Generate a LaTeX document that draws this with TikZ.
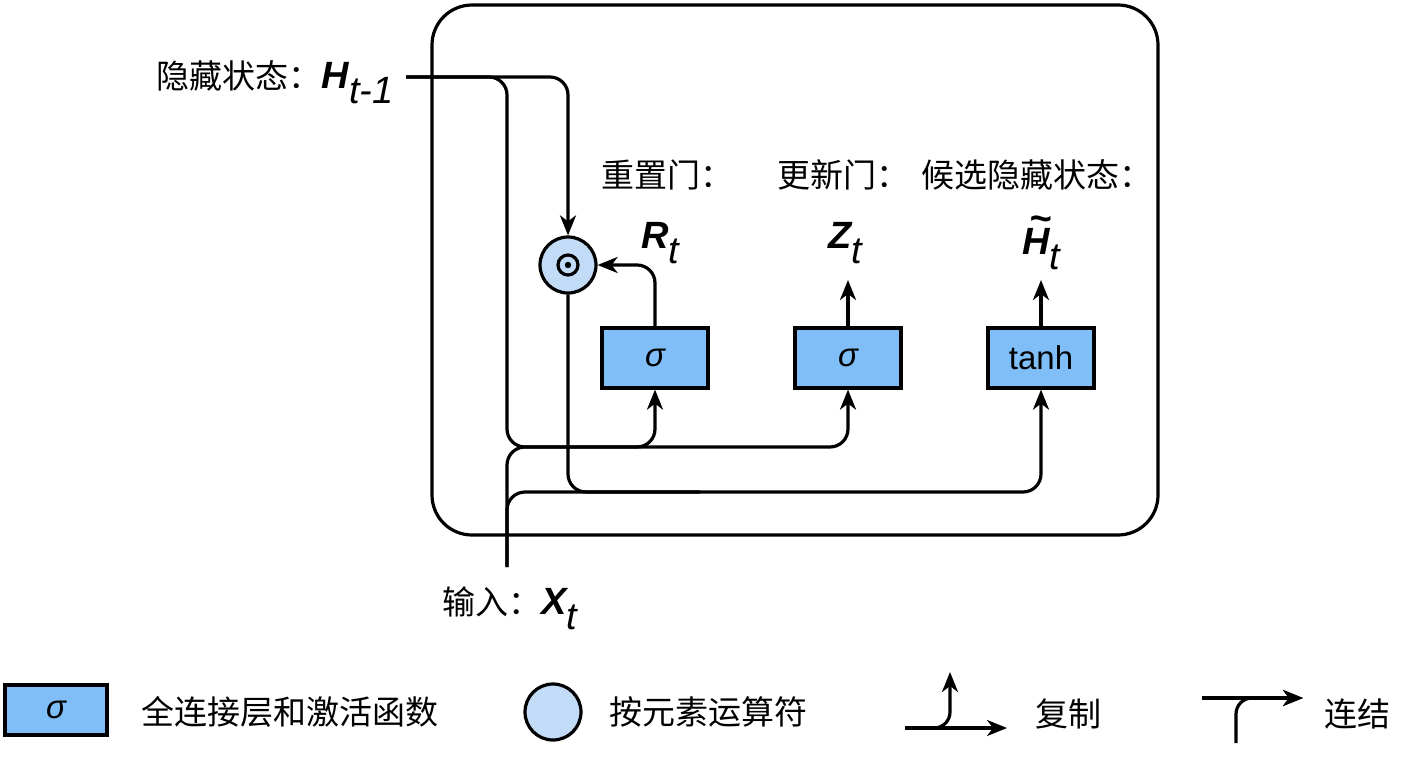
\documentclass[tikz,border=0pt]{standalone}
\usepackage{fontspec}
\setmainfont{Liberation Sans}
\newfontfamily\cjk{Noto Sans CJK SC}
\usetikzlibrary{arrows.meta}
\definecolor{gatefill}{HTML}{80BEF8}
\definecolor{opfill}{HTML}{C2DBF7}
\newcommand{\bvar}[2]{{\fontsize{19}{22}\selectfont{\bfseries\itshape #1}\raisebox{-0.4em}{\itshape #2}}}
\tikzset{
  gate/.style={draw,line width=1.6pt,fill=gatefill,minimum width=53pt,minimum height=30pt,inner sep=0pt},
  op/.style={draw,circle,line width=1.6pt,fill=opfill,minimum size=28pt,inner sep=0pt},
  wire/.style={line width=1.6pt,rounded corners=9pt},
  arr/.style={wire,-{Stealth[length=10pt,width=8pt,inset=3pt]}},
  lab/.style={font=\fontsize{16.5}{19}\selectfont,inner sep=1pt}
}

\begin{document}
\begin{tikzpicture}[x=0.5pt,y=-0.5pt]
\useasboundingbox (0,0) rectangle (1408,760);
\draw[line width=1.6pt,rounded corners=20pt] (432,5) rectangle (1158,535);
% gates
\node[gate,lab] (rgate) at (655,358) {\itshape σ};
\node[gate,lab] (zgate) at (848,358) {\itshape σ};
\node[gate,lab] (hgate) at (1041,358) {tanh};
\node[op] (mul) at (568,265) {};
\draw[line width=1.6pt] (mul) circle (5pt);
\fill (mul) circle (1.6pt);
% labels
\node[lab] (rname) at (667,175) {\cjk 重置门：};
\node[lab] (zname) at (843,175) {\cjk 更新门：};
\node[lab] (hname) at (1037,175) {\cjk 候选隐藏状态：};
\node[lab] (rout) at (660,243) {\bvar{R}{t}};
\node[lab] (zout) at (845,243) {\bvar{Z}{t}};
\node[lab] (hout) at (1041,243) {\bvar{\makebox[0pt][l]{\raisebox{0.6em}{\hspace{0.2em}\textasciitilde}}H}{t}};
\node[lab,anchor=east] (hprev) at (396,82) {{\cjk 隐藏状态：}\bvar{H}{t-1}};
\node[lab] (xlab) at (510,608) {{\cjk 输入：}\bvar{X}{t}};
\coordinate (hin) at (406,77);
\coordinate (xin) at (507,567);
\coordinate (hdown) at (507,447);
\coordinate (rtap) at (600,447);
\coordinate (ttap) at (700,492);
\coordinate (ztip) at (848,280);
\coordinate (htip) at (1041,280);
% wires
\draw[arr] (hin) -| (mul.north);
\draw[arr] (hin) -| (hdown) -| (zgate.south);
\draw[arr] (rtap) -| (rgate.south);
\draw[wire] (xin) |- (rtap);
\draw[arr] (xin) |- (ttap) -| (hgate.south);
\draw[wire] (mul.south) |- (ttap);
\draw[arr] (rgate.north) |- (mul.east);
\draw[arr] (zgate.north) -- (ztip);
\draw[arr] (hgate.north) -- (htip);
% legend
\node[gate,lab,minimum width=51pt,minimum height=25pt] (lgate) at (56,710) {\itshape σ};
\node[lab] (lgtext) at (290,712) {\cjk 全连接层和激活函数};
\node[op] (lop) at (553,712) {};
\node[lab] (loptext) at (708,712) {\cjk 按元素运算符};
\coordinate (ca) at (905,728);
\coordinate (cb) at (1007,728);
\coordinate (cc) at (950,672);
\draw[arr] (ca) -- (cb);
\draw[arr,rounded corners=8pt] (ca) -| (cc);
\node[lab] (lcopy) at (1068,714) {\cjk 复制};
\coordinate (ka) at (1202,698);
\coordinate (kb) at (1303,698);
\coordinate (kc) at (1236,743);
\draw[arr] (ka) -- (kb);
\draw[arr,rounded corners=8pt] (kc) |- (kb);
\node[lab] (lcat) at (1357,714) {\cjk 连结};
\end{tikzpicture}
\end{document}
